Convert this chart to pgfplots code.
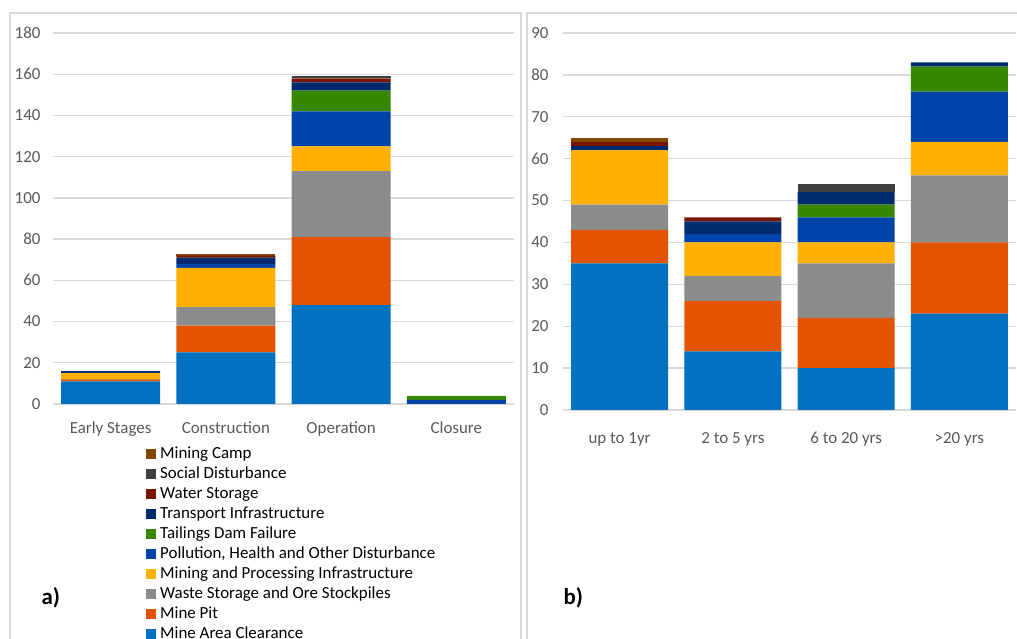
\documentclass[border=0pt]{standalone}
\usepackage{pgfplots}
\pgfplotsset{compat=1.18}
\usepackage{pgfplotstable}
\usepackage{fontspec}
\setmainfont{Carlito}

\definecolor{cClear}{RGB}{0,112,192}
\definecolor{cPit}{RGB}{228,84,0}
\definecolor{cWaste}{RGB}{140,140,140}
\definecolor{cInfra}{RGB}{255,176,0}
\definecolor{cPoll}{RGB}{0,68,170}
\definecolor{cTail}{RGB}{56,135,0}
\definecolor{cTrans}{RGB}{0,42,110}
\definecolor{cWater}{RGB}{120,20,0}
\definecolor{cSocial}{RGB}{64,64,64}
\definecolor{cCamp}{RGB}{128,72,0}
\definecolor{gridgray}{RGB}{217,217,217}
\definecolor{labgray}{RGB}{89,89,89}

% stage of the mine
\pgfplotstableread{
x clear pit waste infra poll tail trans water social camp
0 11 1 0 3 0 0 1 0 0 0
1 25 13 9 19 2 0 3 1 0 1
2 48 33 32 12 17 10 4 2 1 0
3 0 0 0 0 2 2 0 0 0 0
}\stagedata

% duration of operation
\pgfplotstableread{
x clear pit waste infra poll tail trans water social camp
0 35 8 6 13 0 0 1 1 0 1
1 14 12 6 8 2 0 3 1 0 0
2 10 12 13 5 6 3 3 0 2 0
3 23 17 16 8 12 6 1 0 0 0
}\agedata

\pgfplotsset{
  mine/.style={
    scale only axis,
    ybar stacked,
    xmin=-0.5, xmax=3.5,
    xtick={0,1,2,3},
    ymin=0,
    axis line style={draw=none},
    major tick length=0pt,
    ymajorgrids,
    grid style={gridgray, line width=1.3bp},
    /pgf/number format/assume math mode=true,
    tick label style={font=\fontsize{17}{20}\selectfont, text=labgray},
    every axis plot/.append style={draw=none},
  },
}

\begin{document}
\begin{tikzpicture}
\useasboundingbox (0,0) rectangle (1017bp,639bp);
\clip (0,0) rectangle (1017bp,639bp);

% panel frames
\draw[gridgray, line width=1.3bp] (10bp,-10bp) -- (10bp,626bp) -- (521bp,626bp) -- (521bp,-10bp);
\draw[gridgray, line width=1.3bp] (527bp,-10bp) -- (527bp,626bp) -- (1030bp,626bp);

\begin{axis}[mine,
    at={(53bp,235bp)}, anchor=south west,
    width=461bp, height=371bp,
    ymax=180, ytick={0,20,...,180},
    bar width=99bp,
    xticklabels={Early Stages, Construction, Operation, Closure},
    xticklabel style={yshift=-14bp},
    yticklabel style={xshift=-9bp},
    reverse legend,
    legend cell align=left,
    legend style={at={(0.2017,-0.108)}, anchor=north west, draw=none,
      inner sep=0pt, font=\fontsize{17}{20}\selectfont,
      nodes={text height=12bp, text depth=4bp, inner sep=2bp},
      /tikz/every odd column/.append style={column sep=2bp}},
    legend image code/.code={\fill[#1] (0bp,-5bp) rectangle (10bp,5bp);},
  ]
  \addplot[fill=cClear] table[x=x, y=clear] {\stagedata};
  \addlegendentry{Mine Area Clearance}
  \addplot[fill=cPit] table[x=x, y=pit] {\stagedata};
  \addlegendentry{Mine Pit}
  \addplot[fill=cWaste] table[x=x, y=waste] {\stagedata};
  \addlegendentry{Waste Storage and Ore Stockpiles}
  \addplot[fill=cInfra] table[x=x, y=infra] {\stagedata};
  \addlegendentry{Mining and Processing Infrastructure}
  \addplot[fill=cPoll] table[x=x, y=poll] {\stagedata};
  \addlegendentry{Pollution, Health and Other Disturbance}
  \addplot[fill=cTail] table[x=x, y=tail] {\stagedata};
  \addlegendentry{Tailings Dam Failure}
  \addplot[fill=cTrans] table[x=x, y=trans] {\stagedata};
  \addlegendentry{Transport Infrastructure}
  \addplot[fill=cWater] table[x=x, y=water] {\stagedata};
  \addlegendentry{Water Storage}
  \addplot[fill=cSocial] table[x=x, y=social] {\stagedata};
  \addlegendentry{Social Disturbance}
  \addplot[fill=cCamp] table[x=x, y=camp] {\stagedata};
  \addlegendentry{Mining Camp}
\end{axis}

\begin{axis}[mine,
    at={(563bp,229bp)}, anchor=south west,
    width=453bp, height=377bp,
    ymax=90, ytick={0,10,...,90},
    bar width=97bp,
    xticklabels={up to 1yr, 2 to 5 yrs, 6 to 20 yrs, >20 yrs},
    xticklabel style={yshift=-19bp},
    yticklabel style={xshift=-11bp},
  ]
  \addplot[fill=cClear] table[x=x, y=clear] {\agedata};
  \addplot[fill=cPit] table[x=x, y=pit] {\agedata};
  \addplot[fill=cWaste] table[x=x, y=waste] {\agedata};
  \addplot[fill=cInfra] table[x=x, y=infra] {\agedata};
  \addplot[fill=cPoll] table[x=x, y=poll] {\agedata};
  \addplot[fill=cTail] table[x=x, y=tail] {\agedata};
  \addplot[fill=cTrans] table[x=x, y=trans] {\agedata};
  \addplot[fill=cWater] table[x=x, y=water] {\agedata};
  \addplot[fill=cSocial] table[x=x, y=social] {\agedata};
  \addplot[fill=cCamp] table[x=x, y=camp] {\agedata};
\end{axis}

\node[anchor=west, font=\bfseries\fontsize{23}{27}\selectfont] at (38bp,41bp) {a)};
\node[anchor=west, font=\bfseries\fontsize{23}{27}\selectfont] at (560bp,41bp) {b)};
\end{tikzpicture}
\end{document}
